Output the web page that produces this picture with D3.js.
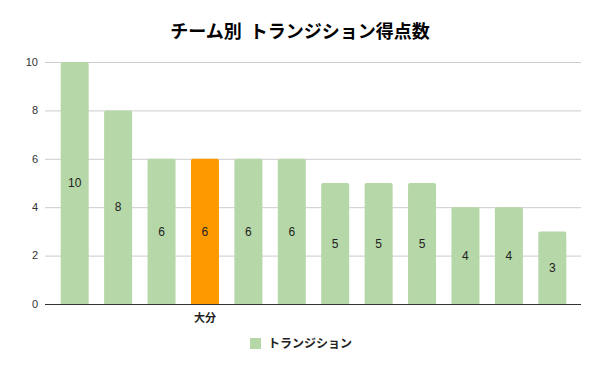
<!DOCTYPE html>
<html>
<head>
<meta charset="utf-8">
<script src="https://cdn.jsdelivr.net/npm/d3@7"></script>
<style>
  body { margin: 0; background: #fff; }
  svg { font-family: "Noto Sans CJK JP", "Noto Sans", sans-serif; }
</style>
</head>
<body>
<svg id="chart" width="600" height="371"></svg>
<script>
// data
let categories = ["", "", "", "大分", "", "", "", "", "", "", "", ""];
let values = [10, 8, 6, 6, 6, 6, 5, 5, 5, 4, 4, 3];
let highlight = "大分";
let yTicks = [0, 2, 4, 6, 8, 10];
let seriesName = "トランジション";
let title = "チーム別  トランジション得点数";

let svg = d3.select("#chart");
let plotLeft = 45, plotRight = 581, plotTop = 62, plotBottom = 304;

let x = d3.scaleBand()
    .domain(d3.range(values.length))
    .range([53, 574])
    .paddingInner(0.355)
    .paddingOuter(0.1775);

let y = d3.scaleLinear()
    .domain([0, 10])
    .range([plotBottom, plotTop]);

// grid
svg.append("g")
    .selectAll("line")
    .data(yTicks.filter(t => t > 0))
    .join("line")
    .attr("x1", plotLeft).attr("x2", plotRight)
    .attr("y1", d => y(d) + 0.5).attr("y2", d => y(d) + 0.5)
    .attr("stroke", "#cccccc")
    .attr("stroke-width", 1);

// y tick labels
svg.append("g")
    .selectAll("text")
    .data(yTicks)
    .join("text")
    .attr("x", 38)
    .attr("y", d => y(d))
    .attr("dy", "0.35em")
    .attr("text-anchor", "end")
    .attr("font-family", "'Liberation Sans', Arial, sans-serif")
    .attr("font-size", 11)
    .attr("fill", "#333")
    .text(d => d);

// bars
svg.append("g")
    .selectAll("path")
    .data(values)
    .join("path")
    .attr("d", (d, i) => {
        let x0 = x(i), w = x.bandwidth(), y0 = y(d), r = 2;
        return `M${x0},${plotBottom}V${y0 + r}Q${x0},${y0} ${x0 + r},${y0}H${x0 + w - r}Q${x0 + w},${y0} ${x0 + w},${y0 + r}V${plotBottom}Z`;
    })
    .attr("fill", (d, i) => categories[i] === highlight ? "#ff9900" : "#b6d7a8");

// value labels
svg.append("g")
    .selectAll("text")
    .data(values)
    .join("text")
    .attr("x", (d, i) => x(i) + x.bandwidth() / 2)
    .attr("y", d => (y(d) + plotBottom) / 2)
    .attr("dy", "0.35em")
    .attr("text-anchor", "middle")
    .attr("font-family", "'Liberation Sans', Arial, sans-serif")
    .attr("font-size", 12)
    .attr("fill", "#222")
    .text(d => d);

// baseline
svg.append("line")
    .attr("x1", plotLeft).attr("x2", plotRight)
    .attr("y1", plotBottom + 0.5).attr("y2", plotBottom + 0.5)
    .attr("stroke", "#333")
    .attr("stroke-width", 1);

// x labels
svg.append("g")
    .selectAll("text")
    .data(categories)
    .join("text")
    .attr("x", (d, i) => x(i) + x.bandwidth() / 2)
    .attr("y", 322)
    .attr("text-anchor", "middle")
    .attr("font-size", 11)
    .attr("font-weight", "bold")
    .attr("fill", "#222")
    .text(d => d);

// title
svg.append("text")
    .attr("x", 300)
    .attr("y", 38)
    .attr("text-anchor", "middle")
    .attr("font-size", 18)
    .attr("font-weight", "bold")
    .attr("fill", "#000")
    .style("white-space", "pre")
    .text(title);

// legend
let legend = svg.append("g").attr("transform", "translate(250,338)");
legend.append("rect")
    .attr("width", 11).attr("height", 11)
    .attr("fill", "#b6d7a8");
legend.append("text")
    .attr("x", 18)
    .attr("y", 6)
    .attr("dy", "0.35em")
    .attr("font-size", 12)
    .attr("font-weight", "bold")
    .attr("fill", "#222")
    .text(seriesName);
</script>
</body>
</html>
